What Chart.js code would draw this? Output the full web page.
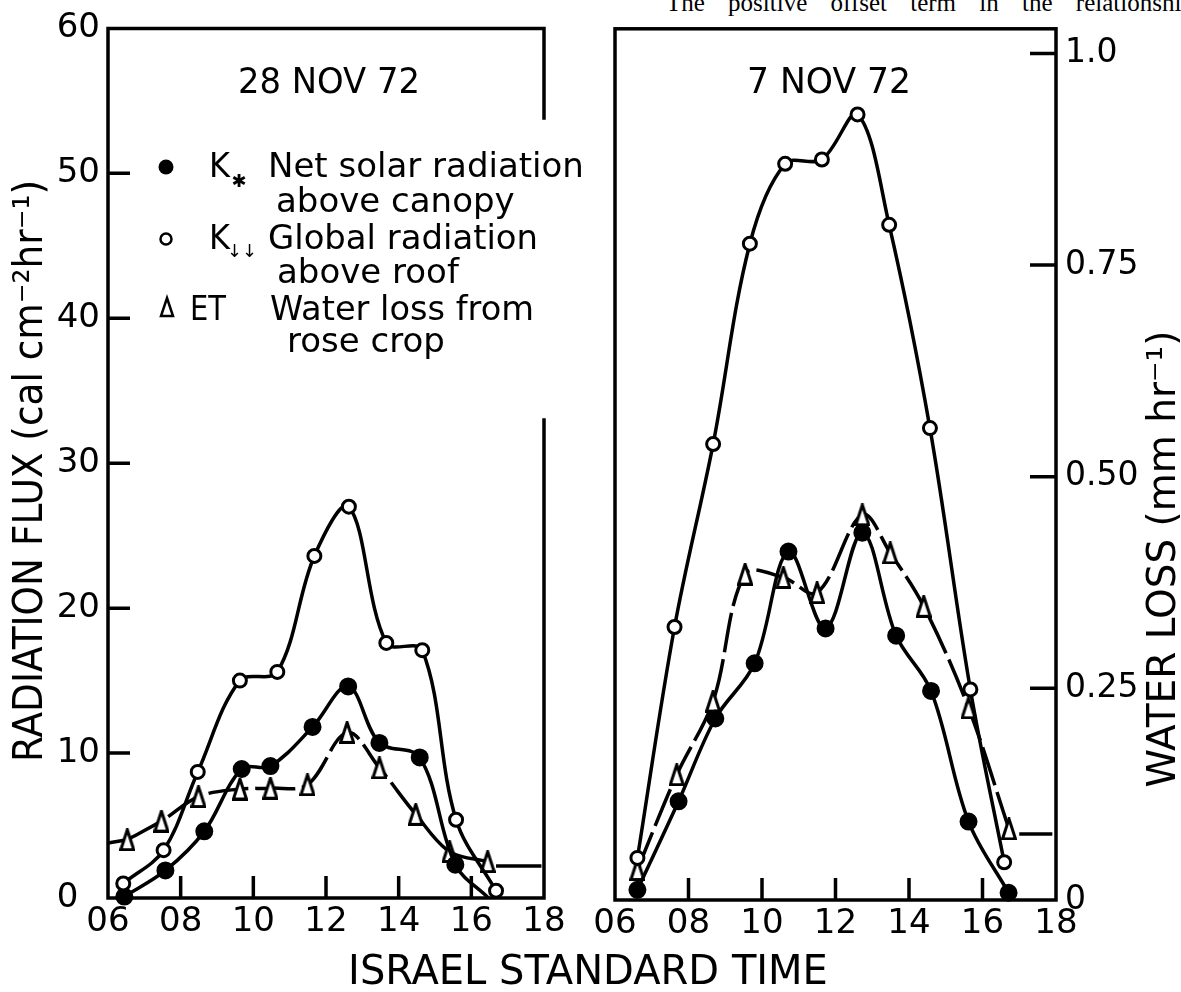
<!DOCTYPE html>
<html>
<head>
<meta charset="utf-8">
<script src="https://cdn.jsdelivr.net/npm/chart.js@4.4.0/dist/chart.umd.min.js"></script>
<style>
html, body { margin: 0; padding: 0; background: #fff; }
body { width: 1181px; height: 992px; position: relative; overflow: hidden; }
canvas { position: absolute; left: 0; top: 0; }
#topline { position: absolute; left: 666px; top: -11px; font: 25px 'Liberation Serif', serif; white-space: nowrap; word-spacing: 17px; color: #000; }
</style>
</head>
<body>
<div id="topline">The positive offset term in the relationship</div>
<canvas id="left" width="1181" height="992"></canvas>
<canvas id="right" width="1181" height="992"></canvas>
<script>
// 28 NOV 72 (left panel) - radiation in cal cm-2 hr-1, ET in mm hr-1
var hoursGlobalL = [6.42, 7.53, 8.47, 9.63, 10.66, 11.68, 12.63, 13.66, 14.65, 15.58, 16.68];
var globalL = [1.0, 3.3, 8.7, 15.0, 15.6, 23.6, 27.0, 17.6, 17.1, 5.4, 0.5];
var hoursNetL = [6.45, 7.58, 8.65, 9.68, 10.47, 11.63, 12.61, 13.47, 14.58, 15.56, 16.47];
var netL = [0.1, 1.9, 4.6, 8.9, 9.1, 11.8, 14.6, 10.7, 9.7, 2.3, 0];
var hoursEtL = [6.53, 7.47, 8.49, 9.63, 10.47, 11.49, 12.58, 13.47, 14.47, 15.4, 16.45];
var etL = [0.069, 0.091, 0.120, 0.129, 0.130, 0.134, 0.196, 0.154, 0.099, 0.055, 0.043];
// pieces of the ET curve drawn beyond the readings (null = break)
var hoursEtExtL = [6.0, 6.53, 16.6, 16.68, 17.93];
var etExtL = [0.065, 0.069, null, 0.038, 0.038];

// 7 NOV 72 (right panel)
var hoursGlobalR = [6.61, 7.62, 8.67, 9.67, 10.63, 11.63, 12.6, 13.46, 14.57, 15.67, 16.59];
var globalR = [2.9, 18.8, 31.4, 45.2, 50.7, 51.0, 54.1, 46.5, 32.5, 14.5, 2.6];
var hoursNetR = [6.61, 7.73, 8.73, 9.8, 10.72, 11.73, 12.73, 13.65, 14.6, 15.62, 16.71];
var netR = [0.7, 6.8, 12.5, 16.3, 24.0, 18.7, 25.3, 18.2, 14.4, 5.4, 0.5];
var hoursEtR = [6.61, 7.68, 8.67, 9.54, 10.58, 11.5, 12.73, 13.49, 14.4, 15.62, 16.72];
var etR = [0.036, 0.148, 0.235, 0.385, 0.381, 0.363, 0.455, 0.41, 0.347, 0.227, 0.084];
var hoursEtExtR = [17.0, 17.9];
var etExtR = [0.078, 0.078];

// axes
var hourTicks = [6, 8, 10, 12, 14, 16, 18];
var hourLabels = ['06', '08', '10', '12', '14', '16', '18'];
var fluxTicks = [0, 10, 20, 30, 40, 50, 60];
var lossTicks = [0, 0.25, 0.5, 0.75, 1.0];
var lossLabels = ['0', '0.25', '0.50', '0.75', '1.0'];
var calPerMm = 58.3; // 1 mm hr-1 of water loss on the flux scale

Chart.defaults.font.family = "'DejaVu Sans', sans-serif";
Chart.defaults.color = '#000';

function pts(xs, ys) {
  return xs.map(function(x, i) { return { x: x, y: ys[i] }; });
}

function makeTriangle(w, h, lw) {
  var c = document.createElement('canvas');
  c.width = w; c.height = h;
  var g = c.getContext('2d');
  g.beginPath();
  g.moveTo(w / 2, lw / 2);
  g.lineTo(w - lw / 2, h - lw / 2);
  g.lineTo(lw / 2, h - lw / 2);
  g.closePath();
  g.fillStyle = '#fff'; g.fill();
  g.lineWidth = lw; g.strokeStyle = '#000'; g.stroke();
  return c;
}
var tri = makeTriangle(16, 23, 3);

function lineSet(label, data, axis, extra) {
  var base = {
    label: label, data: data, yAxisID: axis,
    borderColor: '#000', borderWidth: 3.5, tension: 0.35, fill: false, clip: false,
    pointBorderColor: '#000', pointBorderWidth: 3
  };
  return Object.assign(base, extra);
}

function datasets(gx, gy, nx, ny, ex, ey, xx, xy) {
  return [
    lineSet('K\u2193\u2193 Global radiation above roof', pts(gx, gy), 'y',
      { pointRadius: 6.5, pointBackgroundColor: '#fff' }),
    lineSet('K* Net solar radiation above canopy', pts(nx, ny), 'y',
      { pointRadius: ny.map(function(v, i) { return (nx === hoursNetL && i === ny.length - 1) ? 0 : 7.5; }),
        pointBackgroundColor: '#000' }),
    lineSet('ET Water loss from rose crop', pts(ex, ey), 'y1',
      { pointStyle: tri, pointRadius: 8, borderDash: [40, 7] }),
    lineSet('ET', pts(xx, xy), 'y1', { pointRadius: 0, tension: 0 })
  ];
}

function hourAxis(h) {
  return {
    type: 'linear', min: 6, max: 18, position: 'bottom',
    grid: { display: false, drawTicks: false }, border: { display: false },
    afterBuildTicks: function(s) { s.ticks = hourTicks.map(function(v) { return { value: v }; }); },
    ticks: { font: { size: 34 }, padding: 4, maxRotation: 0, autoSkip: false,
      callback: function(v) { return hourLabels[hourTicks.indexOf(v)]; } },
    afterFit: function(s) { s.height = h; }
  };
}

function font(ctx, size) { ctx.font = size + "px 'DejaVu Sans', sans-serif"; }

function txt(ctx, s, x, y, size, maxW, align) {
  font(ctx, size);
  ctx.textAlign = align || 'left';
  ctx.textBaseline = 'alphabetic';
  if (maxW) ctx.fillText(s, x, y, maxW); else ctx.fillText(s, x, y);
}

function vtxt(ctx, s, x, y, size, maxW) {
  ctx.save();
  ctx.translate(x, y);
  ctx.rotate(-Math.PI / 2);
  txt(ctx, s, 0, 0, size, maxW, 'center');
  ctx.restore();
}

var leftDecor = {
  id: 'leftDecor',
  beforeDatasetsDraw: function(chart) {
    var a = chart.chartArea, ctx = chart.ctx, x = chart.scales.x, y = chart.scales.y;
    ctx.save();
    ctx.strokeStyle = '#000'; ctx.lineWidth = 3.5; ctx.lineCap = 'square';
    ctx.beginPath();
    ctx.moveTo(a.right, 118); ctx.lineTo(a.right, a.top); ctx.lineTo(a.left, a.top);
    ctx.lineTo(a.left, a.bottom); ctx.lineTo(a.right, a.bottom); ctx.lineTo(a.right, 420);
    ctx.stroke();
    ctx.lineCap = 'butt';
    ctx.beginPath();
    fluxTicks.slice(1, -1).forEach(function(v) {
      var py = y.getPixelForValue(v);
      ctx.moveTo(a.left, py); ctx.lineTo(a.left + 22, py);
    });
    hourTicks.slice(1, -1).forEach(function(v) {
      var px = x.getPixelForValue(v);
      ctx.moveTo(px, a.bottom); ctx.lineTo(px, a.bottom - 22);
    });
    ctx.stroke();
    ctx.restore();
  },
  afterDraw: function(chart) {
    var ctx = chart.ctx;
    ctx.save();
    ctx.fillStyle = '#000'; ctx.strokeStyle = '#000';
    txt(ctx, '28 NOV 72', 238, 93, 36, 182);
    // legend
    ctx.beginPath(); ctx.arc(166, 167, 7.5, 0, Math.PI * 2); ctx.fill();
    txt(ctx, 'K', 209, 177, 34, 21);
    font(ctx, 18); ctx.textAlign = 'center'; ctx.textBaseline = 'middle';
    ctx.fillText('\u2731', 239, 182);
    txt(ctx, 'Net solar radiation', 268, 177, 34, 316);
    txt(ctx, 'above canopy', 276, 212, 34, 247);
    ctx.beginPath(); ctx.arc(166, 239, 5.5, 0, Math.PI * 2);
    ctx.lineWidth = 2.5; ctx.stroke();
    txt(ctx, 'K', 209, 249, 34, 21);
    font(ctx, 18); ctx.textAlign = 'center'; ctx.textBaseline = 'middle';
    ctx.fillText('\u2193\u2193', 242, 252);
    txt(ctx, 'Global radiation', 268, 249, 34, 270);
    txt(ctx, 'above roof', 277, 283, 34, 194);
    ctx.beginPath();
    ctx.moveTo(167, 298); ctx.lineTo(173, 316); ctx.lineTo(161, 316); ctx.closePath();
    ctx.lineWidth = 2.5; ctx.stroke();
    txt(ctx, 'ET', 190, 320, 34, 36);
    txt(ctx, 'Water loss from', 270, 320, 34, 264);
    txt(ctx, 'rose crop', 287, 352, 34, 188);
    // axis titles
    vtxt(ctx, 'RADIATION FLUX (cal cm\u207B\u00B2hr\u207B\u00B9)', 42, 471, 40, 582);
    txt(ctx, 'ISRAEL STANDARD TIME', 588, 984, 40, 486, 'center');
    ctx.restore();
  }
};

var rightDecor = {
  id: 'rightDecor',
  beforeDatasetsDraw: function(chart) {
    var a = chart.chartArea, ctx = chart.ctx, x = chart.scales.x, y1 = chart.scales.y1;
    ctx.save();
    ctx.strokeStyle = '#000'; ctx.lineWidth = 3.5; ctx.lineCap = 'square';
    ctx.strokeRect(a.left, a.top, a.right - a.left, a.bottom - a.top);
    ctx.lineCap = 'butt';
    ctx.beginPath();
    lossTicks.slice(1).forEach(function(v) {
      var py = y1.getPixelForValue(v);
      ctx.moveTo(a.right, py); ctx.lineTo(a.right - 26, py);
    });
    hourTicks.slice(1, -1).forEach(function(v) {
      var px = x.getPixelForValue(v);
      ctx.moveTo(px, a.bottom); ctx.lineTo(px, a.bottom - 22);
    });
    ctx.stroke();
    ctx.restore();
  },
  afterDraw: function(chart) {
    var ctx = chart.ctx;
    ctx.save();
    ctx.fillStyle = '#000';
    txt(ctx, '7 NOV 72', 747, 93, 36, 164);
    vtxt(ctx, 'WATER LOSS (mm hr\u207B\u00B9)', 1175, 559, 39, 460);
    ctx.restore();
  }
};

new Chart(document.getElementById('left'), {
  type: 'line',
  data: { datasets: datasets(hoursGlobalL, globalL, hoursNetL, netL, hoursEtL, etL, hoursEtExtL, etExtL) },
  options: {
    responsive: false, animation: false,
    layout: { padding: { left: 0, top: 24, right: 637, bottom: 0 } },
    plugins: { legend: { display: false }, tooltip: { enabled: false } },
    scales: {
      x: hourAxis(94),
      y: {
        position: 'left', min: 0, max: 60,
        grid: { display: false, drawTicks: false }, border: { display: false },
        afterBuildTicks: function(s) { s.ticks = fluxTicks.map(function(v) { return { value: v }; }); },
        ticks: { font: { size: 34 }, padding: 8,
          callback: function(v) { return v === 0 ? '0  ' : String(v); } },
        afterFit: function(s) { s.width = 108; }
      },
      y1: { display: false, min: 0, max: 60 / calPerMm }
    }
  },
  plugins: [leftDecor]
});

new Chart(document.getElementById('right'), {
  type: 'line',
  data: { datasets: datasets(hoursGlobalR, globalR, hoursNetR, netR, hoursEtR, etR, hoursEtExtR, etExtR) },
  options: {
    responsive: false, animation: false,
    layout: { padding: { left: 615, top: 26, right: 0, bottom: 0 } },
    plugins: { legend: { display: false }, tooltip: { enabled: false } },
    scales: {
      x: hourAxis(92),
      y: { display: false, min: 0, max: 60 },
      y1: {
        position: 'right', min: 0, max: 60 / calPerMm,
        grid: { display: false, drawTicks: false }, border: { display: false },
        afterBuildTicks: function(s) { s.ticks = lossTicks.map(function(v) { return { value: v }; }); },
        ticks: { font: { size: 33 }, padding: 9,
          callback: function(v) { return lossLabels[lossTicks.indexOf(v)]; } },
        afterFit: function(s) { s.width = 125; }
      }
    }
  },
  plugins: [rightDecor]
});
</script>
</body>
</html>
